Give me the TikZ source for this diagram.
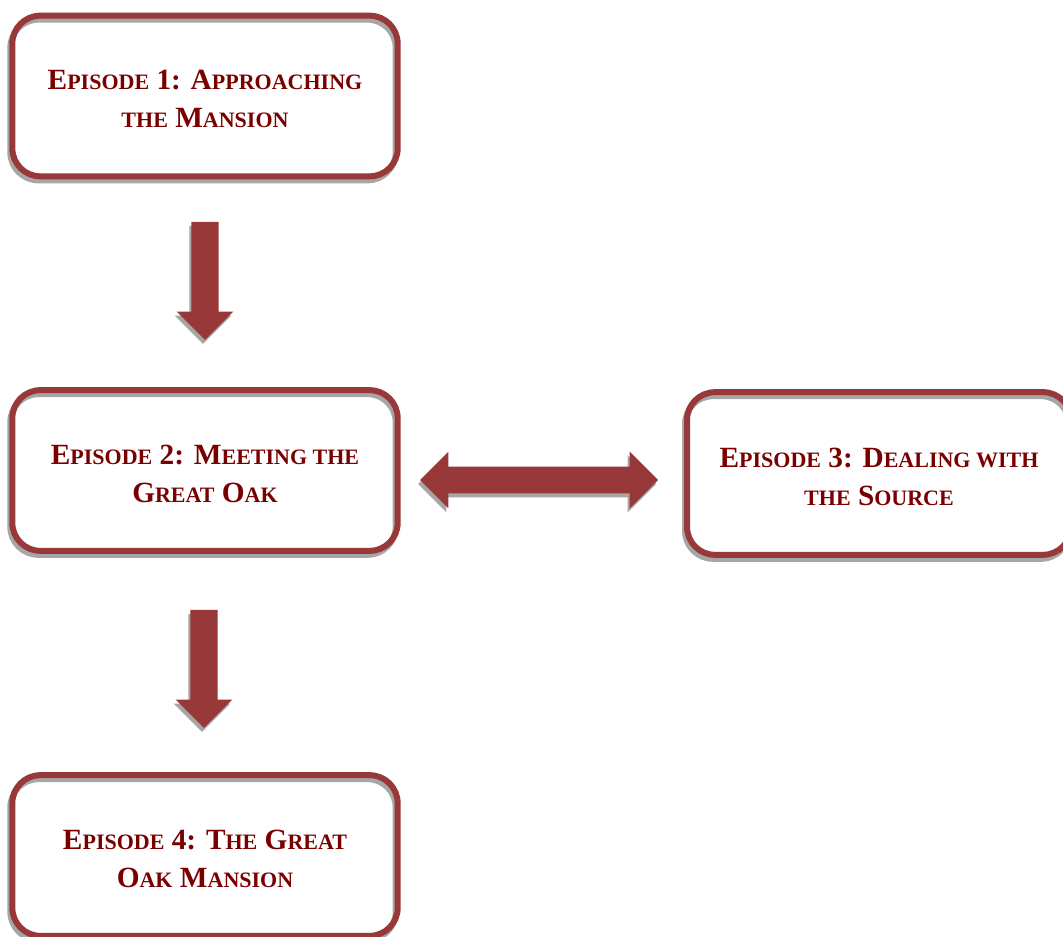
\documentclass[tikz,border=0pt]{standalone}
\usepackage{fontspec}
\setmainfont{Liberation Serif}
\usetikzlibrary{shapes.arrows}
\definecolor{boxred}{RGB}{153,56,56}
\definecolor{txtred}{RGB}{122,0,0}
\definecolor{shade}{RGB}{166,166,166}
\newcommand\capF{\fontsize{22}{28.5}\selectfont}
\newcommand\smc[1]{{\fontsize{16.5}{28.5}\selectfont #1}}
\newcommand\topgap{\rule{0pt}{19pt}}
\tikzset{
  epbox/.style={draw=boxred, line width=4.5pt, rounded corners=21pt,
    minimum width=289pt, minimum height=120.5pt, inner sep=0pt,
    align=center, text=txtred, font=\capF\bfseries,
    preaction={draw=shade, line width=4.5pt, transform canvas={shift={(-1.5pt,-3pt)}}}},
  downarrow/.style={single arrow, draw=none, fill=boxred, inner xsep=0pt, inner ysep=10pt,
    minimum width=42pt, minimum height=88.5pt, single arrow head extend=11pt,
    single arrow tip angle=90, single arrow head indent=0pt, rotate=-90,
    preaction={fill=shade, transform canvas={shift={(-1.5pt,-3pt)}}}},
  sidearrow/.style={double arrow, draw=none, fill=boxred, inner xsep=0pt, inner ysep=9.75pt,
    minimum width=42pt, minimum height=178.5pt, double arrow head extend=11.25pt,
    double arrow tip angle=90, double arrow head indent=0pt,
    preaction={fill=shade, transform canvas={shift={(-1.5pt,-3pt)}}}}
}
\begin{document}
\begin{tikzpicture}[x=0.75pt, y=-0.75pt]
\useasboundingbox (0,0) rectangle (1063,937);
\node[epbox] (e1) at (205,96) {\topgap E\smc{PISODE} 1: A\smc{PPROACHING}\\ \smc{THE} M\smc{ANSION}};
\node[epbox] (e2) at (205,470.5) {\topgap E\smc{PISODE} 2: M\smc{EETING THE}\\ G\smc{REAT} O\smc{AK}};
\node[epbox, minimum width=288pt, minimum height=122pt] (e3) at (879,473.5) {\topgap E\smc{PISODE} 3: D\smc{EALING WITH}\\ \smc{THE} S\smc{OURCE}};
\node[epbox] (e4) at (205,855.5) {\topgap E\smc{PISODE} 4: T\smc{HE} G\smc{REAT}\\ O\smc{AK} M\smc{ANSION}};
\node[downarrow] (a1) at (205,274) {};
\node[downarrow] (a2) at (204,662) {};
\node[sidearrow] (a3) at (539,480) {};
\end{tikzpicture}
\end{document}
